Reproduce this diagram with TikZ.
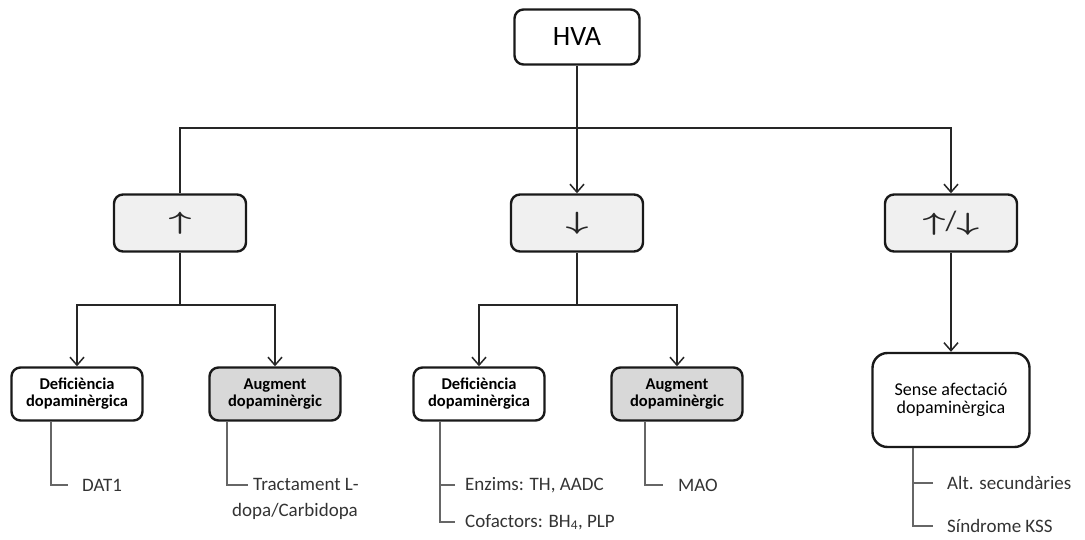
\documentclass[tikz,border=0pt]{standalone}
\usepackage{fontspec}
\usepackage{graphicx}
\setmainfont{Carlito}
\usetikzlibrary{shapes,arrows,positioning,calc,arrows.meta}

\definecolor{boxfill}{RGB}{240,240,240}
\definecolor{augfill}{RGB}{216,216,216}

\tikzset{
  box/.style={draw=black!90, line width=2.4pt, rounded corners=9pt, align=center, inner sep=0pt},
  level/.style={box, fill=boxfill, minimum width=132pt, minimum height=57pt},
  cause/.style={box, minimum width=131pt, minimum height=53pt, font=\bfseries\fontsize{16.5}{17}\selectfont},
  conn/.style={draw=black!85, line width=1.7pt},
  tip/.style={-{Straight Barb[length=8pt,width=14pt,line width=1.5pt]}},
  leg/.style={draw=black!60, line width=1.1pt},
  legtext/.style={anchor=west, inner sep=0pt, text=black!80, font=\fontsize{19}{21}\selectfont}
}
\newcommand{\arr}[1]{{\fontsize{26}{28}\selectfont\boldmath\scalebox{1.6}[1]{$#1$}}}

\begin{document}
\begin{tikzpicture}[x=1pt,y=-1pt]
    \useasboundingbox (0,0) rectangle (1085,540);

    % top level
    \node[box, minimum width=125pt, minimum height=55pt, font=\fontsize{28}{30}\selectfont] (hva) at (577,37) {HVA};
    \coordinate (split) at (577,128);

    \node[level, text=black!85] (up) at (180,223) {\arr{\uparrow}};
    \node[level, text=black!85] (down) at (577,223) {\arr{\downarrow}};
    \node[level, text=black!85] (updown) at (951,223) {\arr{\uparrow}{\fontsize{28}{30}\selectfont/}\arr{\downarrow}};

    \draw[conn] (hva) -- (split);
    \draw[conn] (up.north) |- (split);
    \draw[conn, tip] (split) -- (down);
    \draw[conn, tip] (split) -| (updown);

    % second level
    \node[cause] (def1) at (77,394) {Deficiència\\dopaminèrgica};
    \node[cause, fill=augfill] (aug1) at (275,394) {Augment\\dopaminèrgic};
    \node[cause] (def2) at (479,394) {Deficiència\\dopaminèrgica};
    \node[cause, fill=augfill] (aug2) at (677,394) {Augment\\dopaminèrgic};
    \node[box, rounded corners=15pt, minimum width=157pt, minimum height=94pt,
          font=\fontsize{18}{18}\selectfont] (sense) at (951,400) {Sense afectació\\dopaminèrgica};

    \coordinate (splitup) at (180,305);
    \coordinate (splitdown) at (577,305);
    \draw[conn] (up) -- (splitup);
    \draw[conn, tip] (splitup) -| (def1);
    \draw[conn, tip] (splitup) -| (aug1);
    \draw[conn] (down) -- (splitdown);
    \draw[conn, tip] (splitdown) -| (def2);
    \draw[conn, tip] (splitdown) -| (aug2);
    \draw[conn, tip] (updown) -- (sense);

    % causes
    \node[legtext] (dat) at (82,485) {DAT1};
    \draw[leg] ([xshift=-26pt]def1.south) |- ([xshift=-14pt]dat.west);

    \node[legtext, anchor=north west, align=left, font=\fontsize{19}{26}\selectfont] (trac) at (232,478)
        {\hspace*{21pt}Tractament L-\\dopa/Carbidopa};
    \coordinate (tracdash) at (248,485);
    \draw[leg] ([xshift=-48pt]aug1.south) |- (tracdash);

    \node[legtext] (enz) at (465,485) {Enzims: TH, AADC};
    \node[legtext] (cof) at (465,522) {Cofactors: BH\textsubscript{4}, PLP};
    \draw[leg] ([xshift=-39pt]def2.south) |- ([xshift=-10pt]cof.west);
    \draw[leg] ([xshift=-10pt]enz.west) -- ++(-15pt,0);

    \node[legtext] (mao) at (678,485) {MAO};
    \draw[leg] ([xshift=-32pt]aug2.south) |- ([xshift=-15pt]mao.west);

    \node[legtext] (alt) at (947,483) {Alt. secundàries};
    \node[legtext] (kss) at (947,526) {Síndrome KSS};
    \draw[leg] ([xshift=-38pt]sense.south) |- ([xshift=-14pt]kss.west);
    \draw[leg] ([xshift=-14pt]alt.west) -- ++(-20pt,0);
\end{tikzpicture}
\end{document}
